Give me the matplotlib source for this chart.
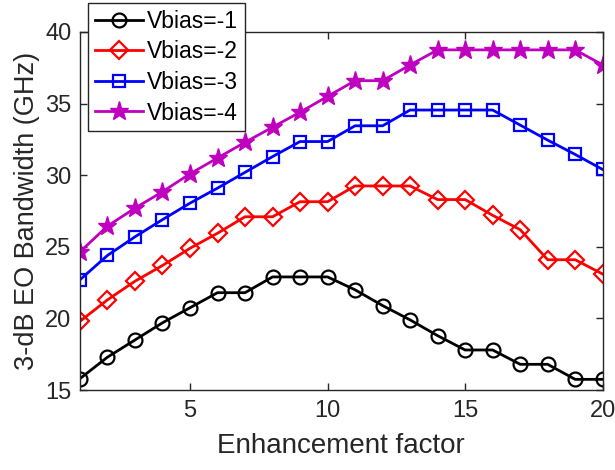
import numpy as np
import matplotlib.pyplot as plt

plt.rcParams['font.family'] = ['Liberation Sans', 'DejaVu Sans']

# Enhancement factor (x) and 3-dB EO bandwidth (GHz) for each bias voltage
factor = np.arange(1, 21)
bw_v1 = [15.8, 17.3, 18.5, 19.7, 20.75, 21.8, 21.8, 22.9, 22.9, 22.9,
         22.0, 20.9, 19.9, 18.8, 17.8, 17.8, 16.8, 16.8, 15.75, 15.75]
bw_v2 = [19.8, 21.3, 22.6, 23.7, 24.9, 25.95, 27.1, 27.1, 28.15, 28.15,
         29.25, 29.25, 29.25, 28.3, 28.3, 27.2, 26.2, 24.1, 24.1, 23.1]
bw_v3 = [22.7, 24.4, 25.7, 26.9, 28.05, 29.1, 30.2, 31.3, 32.35, 32.35,
         33.45, 33.45, 34.55, 34.55, 34.55, 34.55, 33.5, 32.45, 31.45, 30.4]
bw_v4 = [24.65, 26.45, 27.7, 28.85, 30.1, 31.2, 32.3, 33.35, 34.4, 35.5,
         36.6, 36.6, 37.7, 38.75, 38.75, 38.75, 38.75, 38.75, 38.75, 37.7]

labels = ['Vbias=-1', 'Vbias=-2', 'Vbias=-3', 'Vbias=-4']
colors = ['black', '#ff0000', '#0000ff', '#bf00bf']
markers = ['o', 'D', 's', '*']
msizes = [10, 9, 8, 14]

fig = plt.figure(figsize=(6.15, 4.7), dpi=100)
ax = fig.add_axes([0.130, 0.170, 0.850, 0.762])

for y, lab, c, m, ms in zip([bw_v1, bw_v2, bw_v3, bw_v4], labels, colors, markers, msizes):
    if m == '*':
        ax.plot(factor, y, color=c, marker=m, markersize=ms, linewidth=2,
                markerfacecolor=c, markeredgewidth=1, label=lab)
    else:
        ax.plot(factor, y, color=c, marker=m, markersize=ms, linewidth=2,
                markerfacecolor='none', markeredgewidth=1.6, label=lab)

ax.set_xlim(1, 20)
ax.set_ylim(15, 40)
ax.set_xticks([5, 10, 15, 20])
ax.set_yticks([15, 20, 25, 30, 35, 40])
ax.tick_params(direction='in', top=True, right=True, labelsize=17, length=5,
               colors='#262626', width=1)
ax.tick_params(axis='x', pad=7)
ax.tick_params(axis='y', pad=6)
for s in ax.spines.values():
    s.set_color('#262626')
    s.set_linewidth(1)

ax.set_xlabel('Enhancement factor', fontsize=20, color='#262626', labelpad=8)
ax.set_ylabel('3-dB EO Bandwidth (GHz)', fontsize=19.5, color='#262626', labelpad=4)

leg = ax.legend(loc='upper left', bbox_to_anchor=(0.015, 1.081), fontsize=16.5,
                frameon=True, fancybox=False, edgecolor='#262626',
                handlelength=2.1, borderpad=0.3, labelspacing=0.33,
                handletextpad=0.2, borderaxespad=0)
leg.get_frame().set_linewidth(1)
leg.get_frame().set_alpha(1)

fig.savefig('out.png', dpi=100)
